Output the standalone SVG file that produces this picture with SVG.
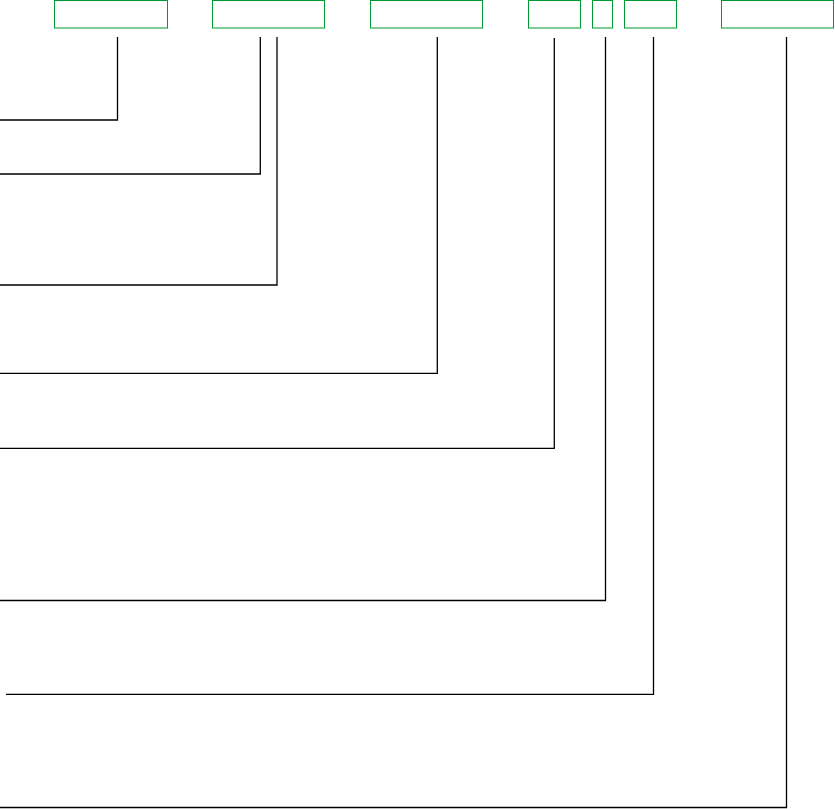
<svg xmlns="http://www.w3.org/2000/svg" width="835" height="809" viewBox="0 0 835 809">
<style>
.node rect{fill:#ffffff;stroke:#009933;stroke-width:1}
.conn path{fill:none;stroke:#000000;stroke-width:1.3}
</style>
<rect width="835" height="809" fill="#ffffff"/>
<g id="node1" class="node"><rect x="54.5" y="0.5" width="113" height="27.5"/></g>
<g id="node2" class="node"><rect x="212.5" y="0.5" width="112" height="27.5"/></g>
<g id="node3" class="node"><rect x="370.5" y="0.5" width="112" height="27.5"/></g>
<g id="node4" class="node"><rect x="528.5" y="0.5" width="52" height="27.5"/></g>
<g id="node5" class="node"><rect x="592.5" y="0.5" width="20" height="27.5"/></g>
<g id="node6" class="node"><rect x="624.5" y="0.5" width="52" height="27.5"/></g>
<g id="node7" class="node"><rect x="721.5" y="0.5" width="112" height="27.5"/></g>
<g id="connectors" class="conn">
<path d="M117.5 37 V120 H0"/>
<path d="M260.3 37 V174 H0"/>
<path d="M277 37 V285 H0"/>
<path d="M437.3 37 V373.3 H0"/>
<path d="M554.3 38 V448.3 H0"/>
<path d="M605.5 37 V600.5 H0"/>
<path d="M653.5 37 V694.3 H6"/>
<path d="M786.5 37 V807.5 H0"/>
</g>
</svg>
